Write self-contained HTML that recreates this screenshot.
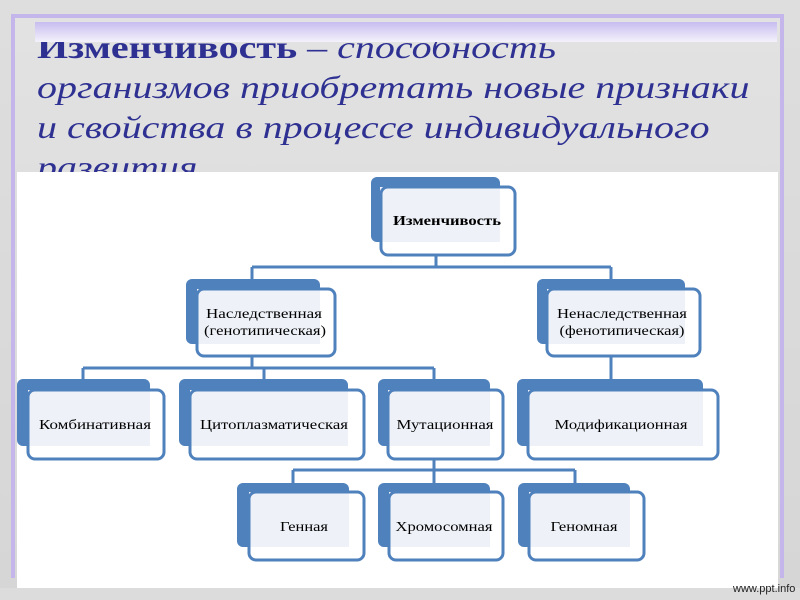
<!DOCTYPE html>
<html><head><meta charset="utf-8"><style>
body{margin:0;width:800px;height:600px;overflow:hidden;background:linear-gradient(#dedede,#d6d6d6);position:relative;font-family:"Liberation Serif",serif}
.a{position:absolute}
</style></head><body>
<div class="a" style="left:11px;top:14px;width:765px;height:560px;border:4px solid #c4b6ea;border-bottom:none;background:linear-gradient(#e2e2e2,#d8d8d8)"></div>
<div class="a" style="left:37px;top:27px;width:600px;font-size:32px;line-height:40px;color:#2e3192;font-style:italic;white-space:nowrap;transform:scaleX(1.25);transform-origin:0 0">
<span style="font-style:normal;font-weight:bold">Изменчивость</span> – способность<br>организмов приобретать новые признаки<br>и свойства в процессе индивидуального<br>развития.</div>
<div class="a" style="left:35px;top:22px;width:742px;height:20px;background:linear-gradient(#c8bdf0,#f4f2fb)"></div>
<div class="a" style="left:17px;top:172px;width:761px;height:416px;background:#fff"></div>
<div class="a" style="left:0;top:588px;width:800px;height:12px;background:#dcdcdc"></div>
<div class="a" style="left:733px;top:583px;font-family:'Liberation Sans',sans-serif;font-size:11px;color:#222">www.ppt.info</div>
<svg class="a" style="left:0;top:0" width="800" height="600">
<g fill="none" stroke="#4f81bd" stroke-width="3">
<path d="M436 255V267M252 267H611M252 267V280M611 267V280"/>
<path d="M252 356V368M83 368H434M83 368V380M264 368V380M434 368V380"/>
<path d="M611 356V380"/>
<path d="M434 459V470M293 470H575M293 470V484M434 470V484M575 470V484"/>
</g>
</svg>
<svg class="a" style="left:0;top:0" width="800" height="600" font-family="Liberation Serif,serif" font-size="14" text-anchor="middle">
<g stroke-width="3">
<rect x="371" y="177" width="129" height="65" rx="6" fill="#4f81bd"/><rect x="380" y="187" width="120" height="55" fill="#eef2f8"/><rect x="381" y="187" width="134" height="68" rx="7" fill="none" stroke="#4f81bd"/>
<rect x="186" y="279" width="134" height="65" rx="6" fill="#4f81bd"/><rect x="197" y="289" width="123" height="55" fill="#eef2f8"/><rect x="197" y="289" width="138" height="67" rx="7" fill="none" stroke="#4f81bd"/>
<rect x="537" y="279" width="148" height="65" rx="6" fill="#4f81bd"/><rect x="547" y="289" width="138" height="55" fill="#eef2f8"/><rect x="547" y="289" width="153" height="67" rx="7" fill="none" stroke="#4f81bd"/>
<rect x="17" y="379" width="133" height="67" rx="6" fill="#4f81bd"/><rect x="28" y="390" width="122" height="56" fill="#eef2f8"/><rect x="28" y="390" width="136" height="69" rx="7" fill="none" stroke="#4f81bd"/>
<rect x="179" y="379" width="169" height="67" rx="6" fill="#4f81bd"/><rect x="190" y="390" width="158" height="56" fill="#eef2f8"/><rect x="190" y="390" width="174" height="69" rx="7" fill="none" stroke="#4f81bd"/>
<rect x="378" y="379" width="112" height="67" rx="6" fill="#4f81bd"/><rect x="388" y="390" width="102" height="56" fill="#eef2f8"/><rect x="388" y="390" width="115" height="69" rx="7" fill="none" stroke="#4f81bd"/>
<rect x="517" y="379" width="186" height="67" rx="6" fill="#4f81bd"/><rect x="528" y="390" width="175" height="56" fill="#eef2f8"/><rect x="528" y="390" width="190" height="69" rx="7" fill="none" stroke="#4f81bd"/>
<rect x="237" y="483" width="112" height="64" rx="6" fill="#4f81bd"/><rect x="249" y="492" width="100" height="55" fill="#eef2f8"/><rect x="249" y="492" width="115" height="68" rx="7" fill="none" stroke="#4f81bd"/>
<rect x="378" y="483" width="112" height="64" rx="6" fill="#4f81bd"/><rect x="389" y="492" width="101" height="55" fill="#eef2f8"/><rect x="389" y="492" width="114" height="68" rx="7" fill="none" stroke="#4f81bd"/>
<rect x="518" y="483" width="112" height="64" rx="6" fill="#4f81bd"/><rect x="529" y="492" width="101" height="55" fill="#eef2f8"/><rect x="529" y="492" width="115" height="68" rx="7" fill="none" stroke="#4f81bd"/>
</g>
<text x="447" y="225" font-weight="bold" textLength="108" lengthAdjust="spacingAndGlyphs">Изменчивость</text>
<text x="264" y="318" textLength="116" lengthAdjust="spacingAndGlyphs">Наследственная</text><text x="265" y="335" textLength="122" lengthAdjust="spacingAndGlyphs">(генотипическая)</text>
<text x="622" y="318" textLength="130" lengthAdjust="spacingAndGlyphs">Ненаследственная</text><text x="622" y="335" textLength="125" lengthAdjust="spacingAndGlyphs">(фенотипическая)</text>
<text x="95" y="429" textLength="112" lengthAdjust="spacingAndGlyphs">Комбинативная</text>
<text x="274" y="429" textLength="148" lengthAdjust="spacingAndGlyphs">Цитоплазматическая</text>
<text x="445" y="429" textLength="97" lengthAdjust="spacingAndGlyphs">Мутационная</text>
<text x="621" y="429" textLength="133" lengthAdjust="spacingAndGlyphs">Модификационная</text>
<text x="304" y="531" textLength="48" lengthAdjust="spacingAndGlyphs">Генная</text>
<text x="444" y="531" textLength="97" lengthAdjust="spacingAndGlyphs">Хромосомная</text>
<text x="584" y="531" textLength="67" lengthAdjust="spacingAndGlyphs">Геномная</text>
</svg>
</body></html>
